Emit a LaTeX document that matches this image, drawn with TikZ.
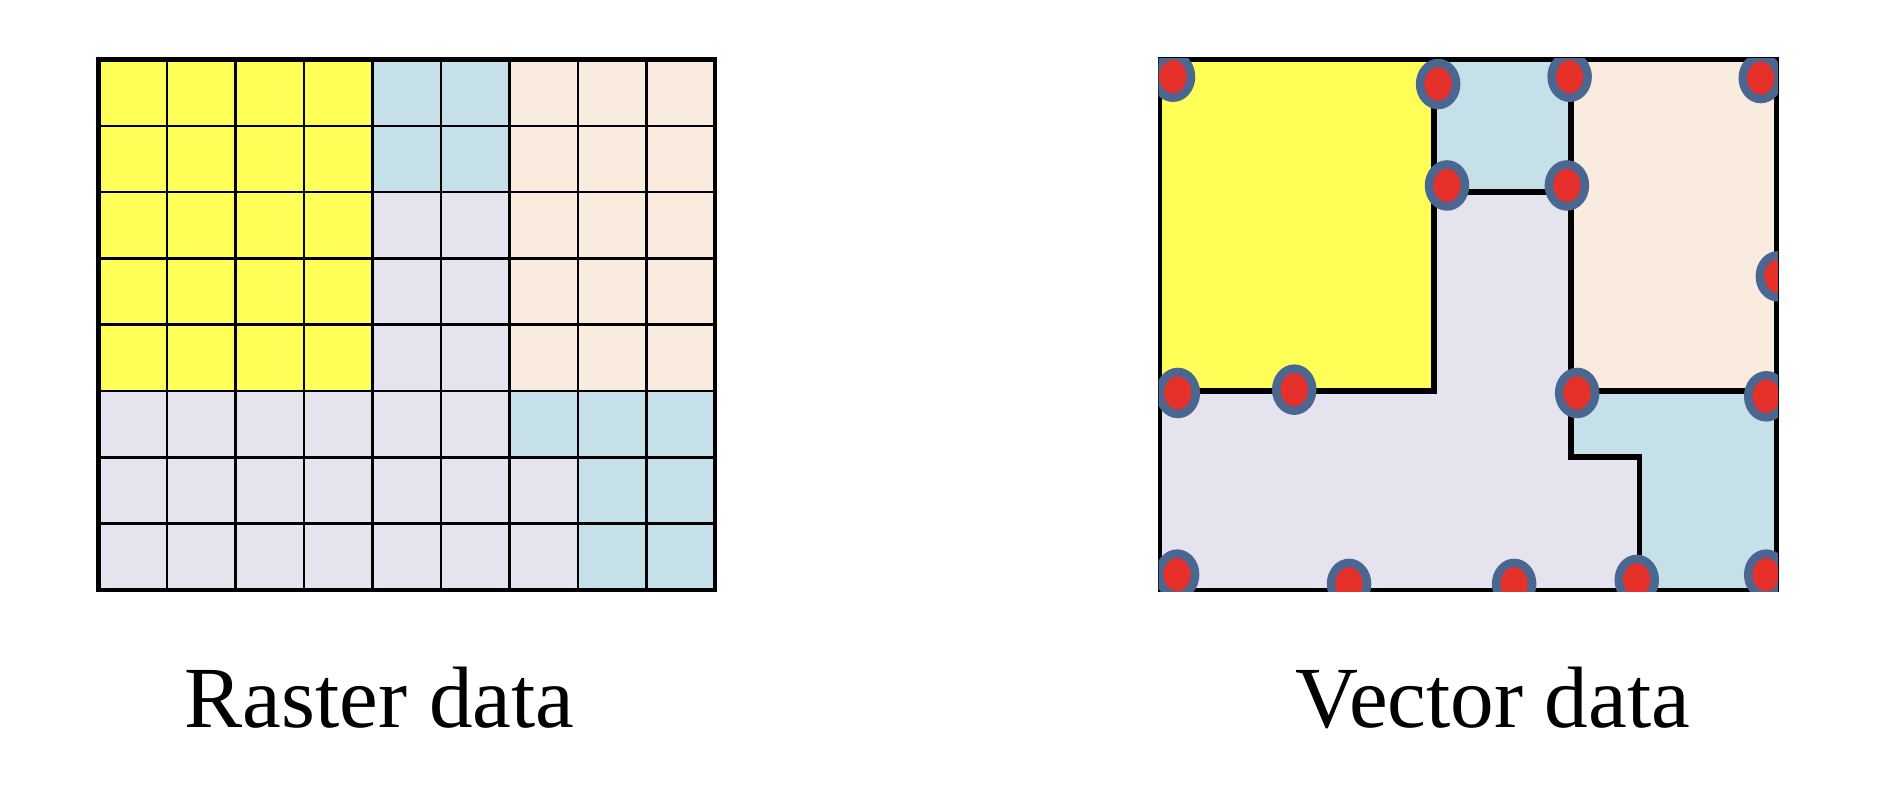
\documentclass[tikz,border=0pt]{standalone}
\usepackage{fontspec}
\setmainfont{Liberation Serif}
\usepackage{tikz}
\usetikzlibrary{shapes.geometric}
\definecolor{cellyellow}{RGB}{255,255,87}
\definecolor{cellblue}{RGB}{197,224,232}
\definecolor{cellpeach}{RGB}{250,235,223}
\definecolor{celllilac}{RGB}{229,227,238}
\definecolor{dotred}{RGB}{229,49,42}
\definecolor{ringblue}{RGB}{75,103,145}

\tikzset{
  gridline/.style={black, line width=0.7pt},
  frame/.style={black, line width=1.2pt},
  border/.style={black, line width=1.6pt},
  vertex/.style={ellipse, draw=ringblue, fill=dotred, line width=0.085cm,
    minimum width=0.36cm, minimum height=0.42cm, inner sep=0pt},
  caption/.style={anchor=base west, inner sep=0pt, font=\fontsize{24.8}{30}\selectfont}
}

\begin{document}
\begin{tikzpicture}
    \useasboundingbox (0,0) rectangle (18.98,-7.86);

    % raster grid
    \begin{scope}[shift={(0.985,-0.595)}, x=0.685cm, y=-0.663cm]
        \fill[celllilac] (0,0) rectangle (9,8);
        \fill[cellyellow] (0,0) rectangle (4,5);
        \fill[cellblue] (4,0) rectangle (6,2);
        \fill[cellpeach] (6,0) rectangle (9,5);
        \fill[cellblue] (6,5) -- (9,5) -- (9,8) -- (7,8) -- (7,6) -- (6,6) -- cycle;
        \foreach \c in {1,...,8} \draw[gridline] (\c,0) -- (\c,8);
        \foreach \r in {1,...,7} \draw[gridline] (0,\r) -- (9,\r);
        \draw[frame] (0,0) rectangle (9,8);
    \end{scope}

    % vector polygons
    \begin{scope}[shift={(11.60,-0.595)}, x=0.685cm, y=-0.663cm]
        \fill[celllilac] (0,5) -- (4,5) -- (4,2) -- (6,2) -- (6,6) -- (7,6) -- (7,8) -- (0,8) -- cycle;
        \fill[cellyellow] (0,0) rectangle (4,5);
        \fill[cellblue] (4,0) rectangle (6,2);
        \fill[cellpeach] (6,0) rectangle (9,5);
        \fill[cellblue] (6,5) -- (9,5) -- (9,8) -- (7,8) -- (7,6) -- (6,6) -- cycle;
        \draw[border] (0,5) -- (4,5) -- (4,0);
        \draw[border] (4,2) -- (6,2);
        \draw[border] (6,0) -- (6,6) -- (7,6) -- (7,8);
        \draw[border] (6,5) -- (9,5);
        \draw[frame] (0,0) rectangle (9,8);
        \begin{scope}
            \clip (-0.02,-0.02) rectangle (9.02,8.02);
            \foreach \p [count=\i] in {(0.19,0.26),(4.06,0.37),(5.98,0.26),(8.77,0.28),
                (4.19,1.90),(5.94,1.90),(9.02,3.27),(0.26,5.03),(1.96,4.98),
                (6.09,5.03),(8.85,5.08),(0.25,7.77),(2.76,7.91),(5.17,7.91),
                (6.96,7.85),(8.85,7.77)}
                \node[vertex] (v\i) at \p {};
        \end{scope}
    \end{scope}

    \node[caption] (raster) at (1.84,-7.273) {Raster data};
    \node[caption] (vector) at (12.95,-7.273) {Vector data};
\end{tikzpicture}
\end{document}
